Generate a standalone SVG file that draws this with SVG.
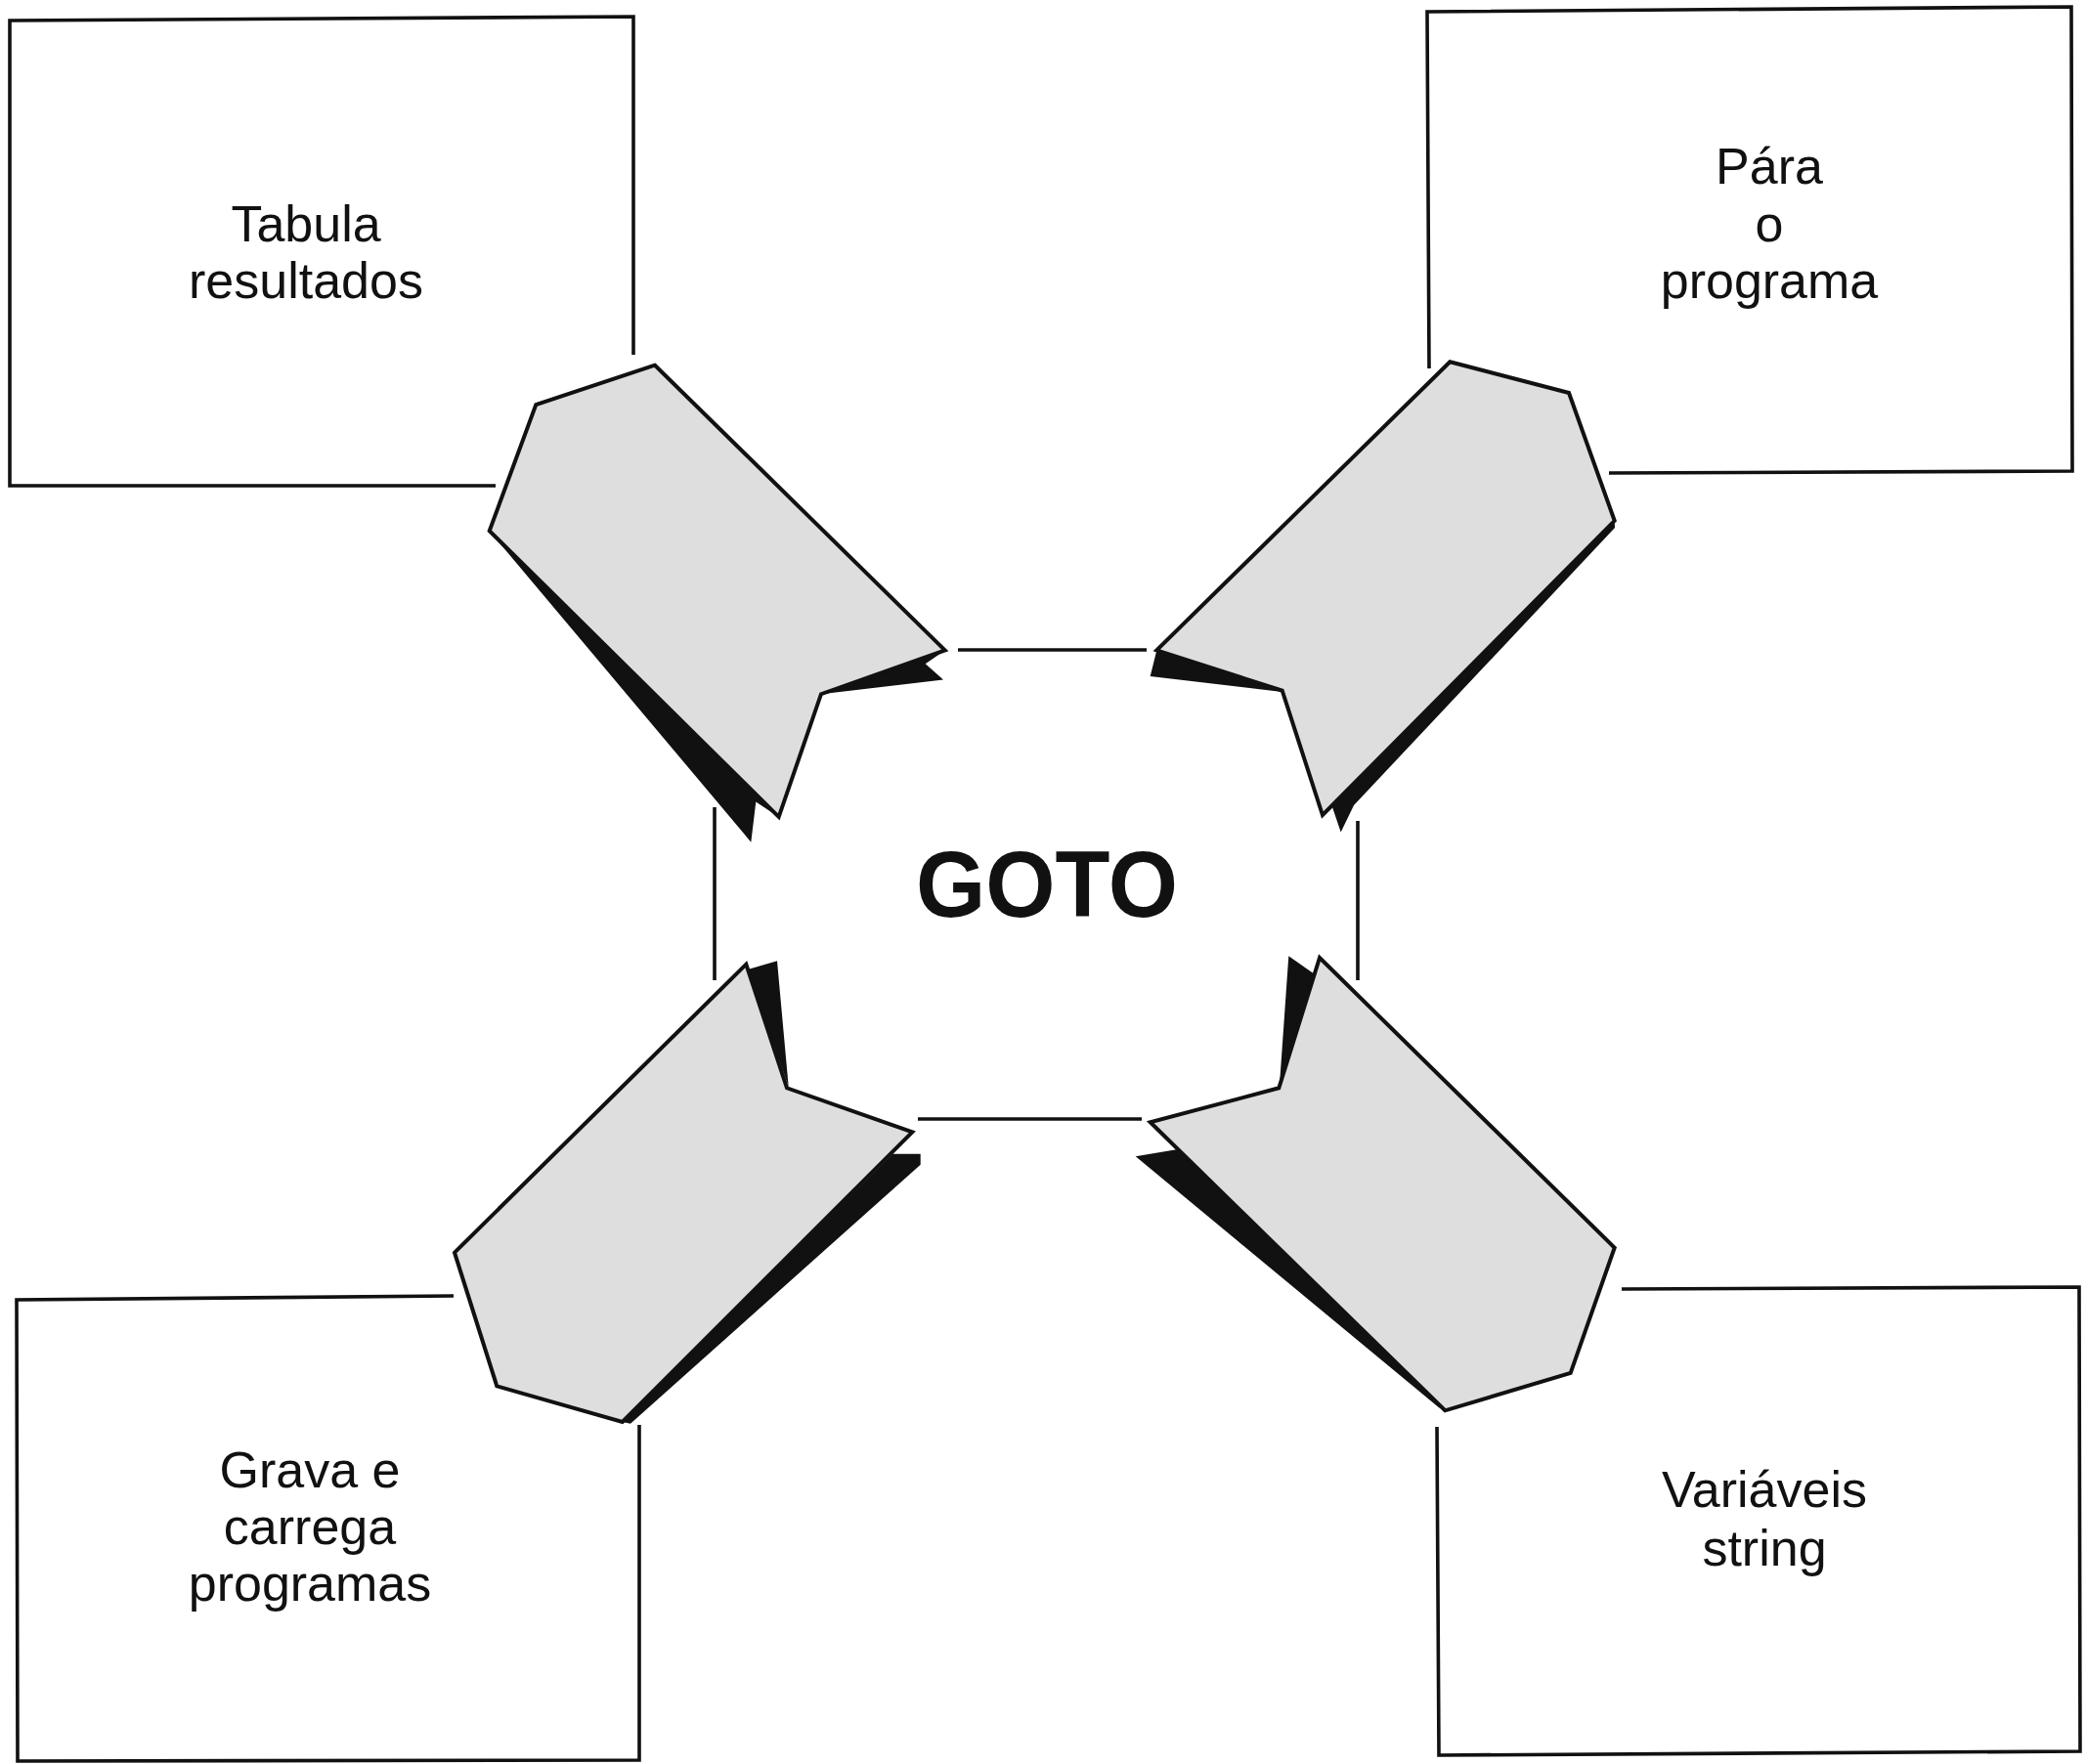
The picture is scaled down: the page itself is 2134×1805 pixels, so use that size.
<svg xmlns="http://www.w3.org/2000/svg" width="2134" height="1805" viewBox="0 0 2134 1805">
<style>
.ln{fill:none;stroke:#111;stroke-width:3.6;stroke-linecap:butt;stroke-linejoin:miter}
.arrow{fill:#dedede;stroke:#111;stroke-width:4;stroke-linejoin:miter}
.sh{fill:#111;stroke:none}
.lbl{font-family:"Liberation Sans",Arial,sans-serif;font-size:52px;fill:#111;text-anchor:middle}
.goto{font-family:"Liberation Sans",Arial,sans-serif;font-size:97px;font-weight:bold;fill:#111;text-anchor:middle}
</style>
<rect width="2134" height="1805" fill="#fff"/>
<g id="box-tabula">
<polyline class="ln" points="507,497 10,497 10,21 648,17 648,363"/>
<text class="lbl" x="313" y="247">Tabula</text>
<text class="lbl" x="313" y="305">resultados</text>
</g>
<g id="box-para">
<polyline class="ln" points="1462,377 1460,12 2119,7 2120,482 1646,484"/>
<text class="lbl" x="1810" y="188">Pára</text>
<text class="lbl" x="1810" y="247">o</text>
<text class="lbl" x="1810" y="305">programa</text>
</g>
<g id="box-grava">
<polyline class="ln" points="464,1326 17,1330 18,1802 654,1801 654,1458"/>
<text class="lbl" x="317" y="1522">Grava e</text>
<text class="lbl" x="317" y="1580">carrega</text>
<text class="lbl" x="317" y="1638">programas</text>
</g>
<g id="box-variaveis">
<polyline class="ln" points="1659,1319 2127,1317 2128,1792 1472,1796 1470,1460"/>
<text class="lbl" x="1805" y="1542">Variáveis</text>
<text class="lbl" x="1805" y="1602">string</text>
</g>
<g id="goto">
<line class="ln" x1="980" y1="665" x2="1173" y2="665"/>
<line class="ln" x1="939" y1="1145" x2="1168" y2="1145"/>
<line class="ln" x1="731" y1="826" x2="731" y2="1003"/>
<line class="ln" x1="1389" y1="840" x2="1389" y2="1003"/>
<text class="goto" x="1071" y="938" textLength="268" lengthAdjust="spacingAndGlyphs">GOTO</text>
</g>
<g id="connectors">
<g id="arrow-tl">
<polygon class="sh" points="500.7,543.2 768.3,861.7 773.3,820.4 796.7,835.9"/>
<polygon class="sh" points="840,710.2 965,695.5 946.7,679.2 966.7,665.4"/>
<polygon class="arrow" points="670,373.7 548.3,414 500.7,543.2 796.7,835.9 840,710.2 966.7,665.4"/>
</g>
<g id="arrow-tr">
<polygon class="sh" points="1183.3,665.4 1176.7,692 1311.7,708"/>
<polygon class="sh" points="1651.7,532.8 1652,540 1385,824 1371.7,851.4 1362,823"/>
<polygon class="arrow" points="1483.3,370.3 1605,402 1651.7,532.8 1353,834 1311.7,706.7 1183.3,665.4"/>
</g>
<g id="arrow-bl">
<polygon class="sh" points="765,992 795,983.3 806.7,1112"/>
<polygon class="sh" points="913.3,1180.7 941.7,1180.7 941.7,1191.7 645,1456.7 636.7,1455"/>
<polygon class="arrow" points="763.3,986.7 805,1113.3 933.3,1158.3 636.7,1455 508.3,1418.3 465,1281.7"/>
</g>
<g id="arrow-br">
<polygon class="sh" points="1318.3,978.3 1345,997 1309,1110"/>
<polygon class="sh" points="1205,1176 1161.7,1183.3 1471.7,1440 1478.3,1443.3"/>
<polygon class="arrow" points="1350,980 1651.7,1276.7 1606.7,1405 1478.3,1443.3 1176.7,1148.3 1308.3,1113.3"/>
</g>
</g>
</svg>
